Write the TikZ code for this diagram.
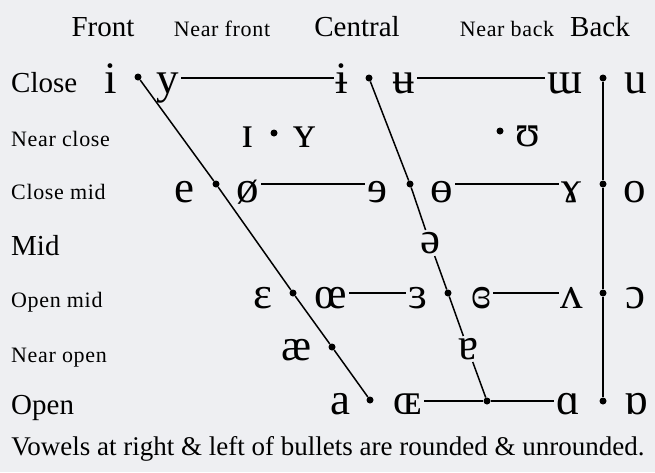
\documentclass[tikz,border=0pt]{standalone}
\usepackage{fontspec}
\setmainfont{Liberation Serif}
\definecolor{bg}{HTML}{EEEFF2}
\begin{document}
\begin{tikzpicture}[x=1pt,y=-1pt,
  vw/.style={font=\fontsize{45}{45}\selectfont, inner sep=2pt, anchor=base},
  vc/.style={font=\fontsize{45}{45}\selectfont, inner sep=2pt, anchor=center},
  blab/.style={font=\fontsize{29}{29}\selectfont, inner sep=0pt, anchor=base west},
  slab/.style={font=\fontsize{22}{22}\selectfont\addfontfeatures{LetterSpace=3}, inner sep=0pt, anchor=base west},
  bhead/.style={font=\fontsize{29}{29}\selectfont, inner sep=0pt, anchor=base},
  shead/.style={font=\fontsize{22}{22}\selectfont\addfontfeatures{LetterSpace=3}, inner sep=0pt, anchor=base},
  dot/.style={circle, fill=black, inner sep=0pt, minimum size=7pt},
  ln/.style={line width=1.5pt, black}]
\fill[bg] (0,0) rectangle (655,472);
\useasboundingbox (0,0) rectangle (655,472);
% headers
\node[bhead] (hF) at (103,36) {Front};
\node[shead] (hNF) at (222,36) {Near front};
\node[bhead] (hC) at (357,36) {Central};
\node[shead] (hNB) at (507,36) {Near back};
\node[bhead] (hB) at (600,36) {Back};
% row labels
\node[blab] (rC) at (11,92) {Close};
\node[slab] (rNC) at (11,146) {Near close};
\node[slab] (rCM) at (11,199) {Close mid};
\node[blab] (rM) at (11,255) {Mid};
\node[slab] (rOM) at (11,307) {Open mid};
\node[slab] (rNO) at (11,362) {Near open};
\node[blab] (rO) at (11,414) {Open};
% close
\node[vw] (vi) at (111,93) {i};
\node[dot] (d1) at (138,77) {};
\node[vw] (vy) at (168,93) {y};
\node[vw] (vbi) at (342,93) {ɨ};
\node[dot] (d2) at (369,78) {};
\node[vw] (vbu) at (404,93) {ʉ};
\node[vw] (vtm) at (565,93) {ɯ};
\node[dot] (d3) at (603,78) {};
\node[vw] (vu) at (636,93) {u};
% near close
\node[vw] (vsi) at (248,147) {ɪ};
\node[dot] (d4) at (274,133) {};
\node[vw] (vsy) at (305,147) {ʏ};
\node[dot] (d5) at (500,131) {};
\node[vw] (vup) at (528,146) {ʊ};
% close mid
\node[vw] (ve) at (184,202) {e};
\node[dot] (d6) at (216,184) {};
\node[vw] (voe) at (248,202) {ø};
\node[vw] (vre) at (377,202) {ɘ};
\node[dot] (d7) at (410,184) {};
\node[vw] (vbo) at (442,202) {ɵ};
\node[vw] (vrg) at (571,202) {ɤ};
\node[dot] (d8) at (603,184) {};
\node[vw] (vo) at (635,202) {o};
% mid
\node[vc] (vsw) at (430,243) {ə};
% open mid
\node[vw] (veps) at (263,308) {ɛ};
\node[dot] (d9) at (293,293) {};
\node[vw] (voel) at (331,308) {œ};
\node[vw] (vreps) at (418,308) {ɜ};
\node[dot] (d10) at (448,293) {};
\node[vw] (vceps) at (481,308) {ɞ};
\node[vw] (vtv) at (572,308) {ʌ};
\node[dot] (d11) at (603,293) {};
\node[vw] (voo) at (635,308) {ɔ};
% near open
\node[vw] (vae) at (297,360) {æ};
\node[dot] (d12) at (332,347) {};
\node[vc] (vta) at (468,349) {ɐ};
% open
\node[vw] (va) at (340,414) {a};
\node[dot] (d13) at (370,400) {};
\node[vw] (voec) at (408,414) {ɶ};
\node[dot] (d14) at (487,401) {};
\node[vw] (vsa) at (568,414) {ɑ};
\node[dot] (d15) at (603,401) {};
\node[vw] (vta2) at (636,414) {ɒ};
% footer
\node[font=\fontsize{27}{27}\selectfont, inner sep=0pt] (foot) at (328,449) {Vowels at right \& left of bullets are rounded \& unrounded.};
% connectors
\draw[ln] (d1) -- (d6) -- (d9) -- (d12) -- (d13);
\draw[ln] (d2) -- (d7) -- (vsw);
\draw[ln] (vsw) -- (d10) -- (vta);
\draw[ln] (vta) -- (d14);
\draw[ln] (d3) -- (d8) -- (d11) -- (d15);
\draw[ln] (vy.east |- d2) -- (vbi.west |- d2);
\draw[ln] (vbu.east |- d2) -- (vtm.west |- d3);
\draw[ln] (voe.east |- d6) -- (vre.west |- d7);
\draw[ln] (vbo.east |- d7) -- (vrg.west |- d8);
\draw[ln] (voel.east |- d9) -- (vreps.west |- d10);
\draw[ln] (vceps.east |- d10) -- (vtv.west |- d11);
\draw[ln] (voec.east |- d14) -- (d14) -- (vsa.west |- d15);
\end{tikzpicture}
\end{document}
